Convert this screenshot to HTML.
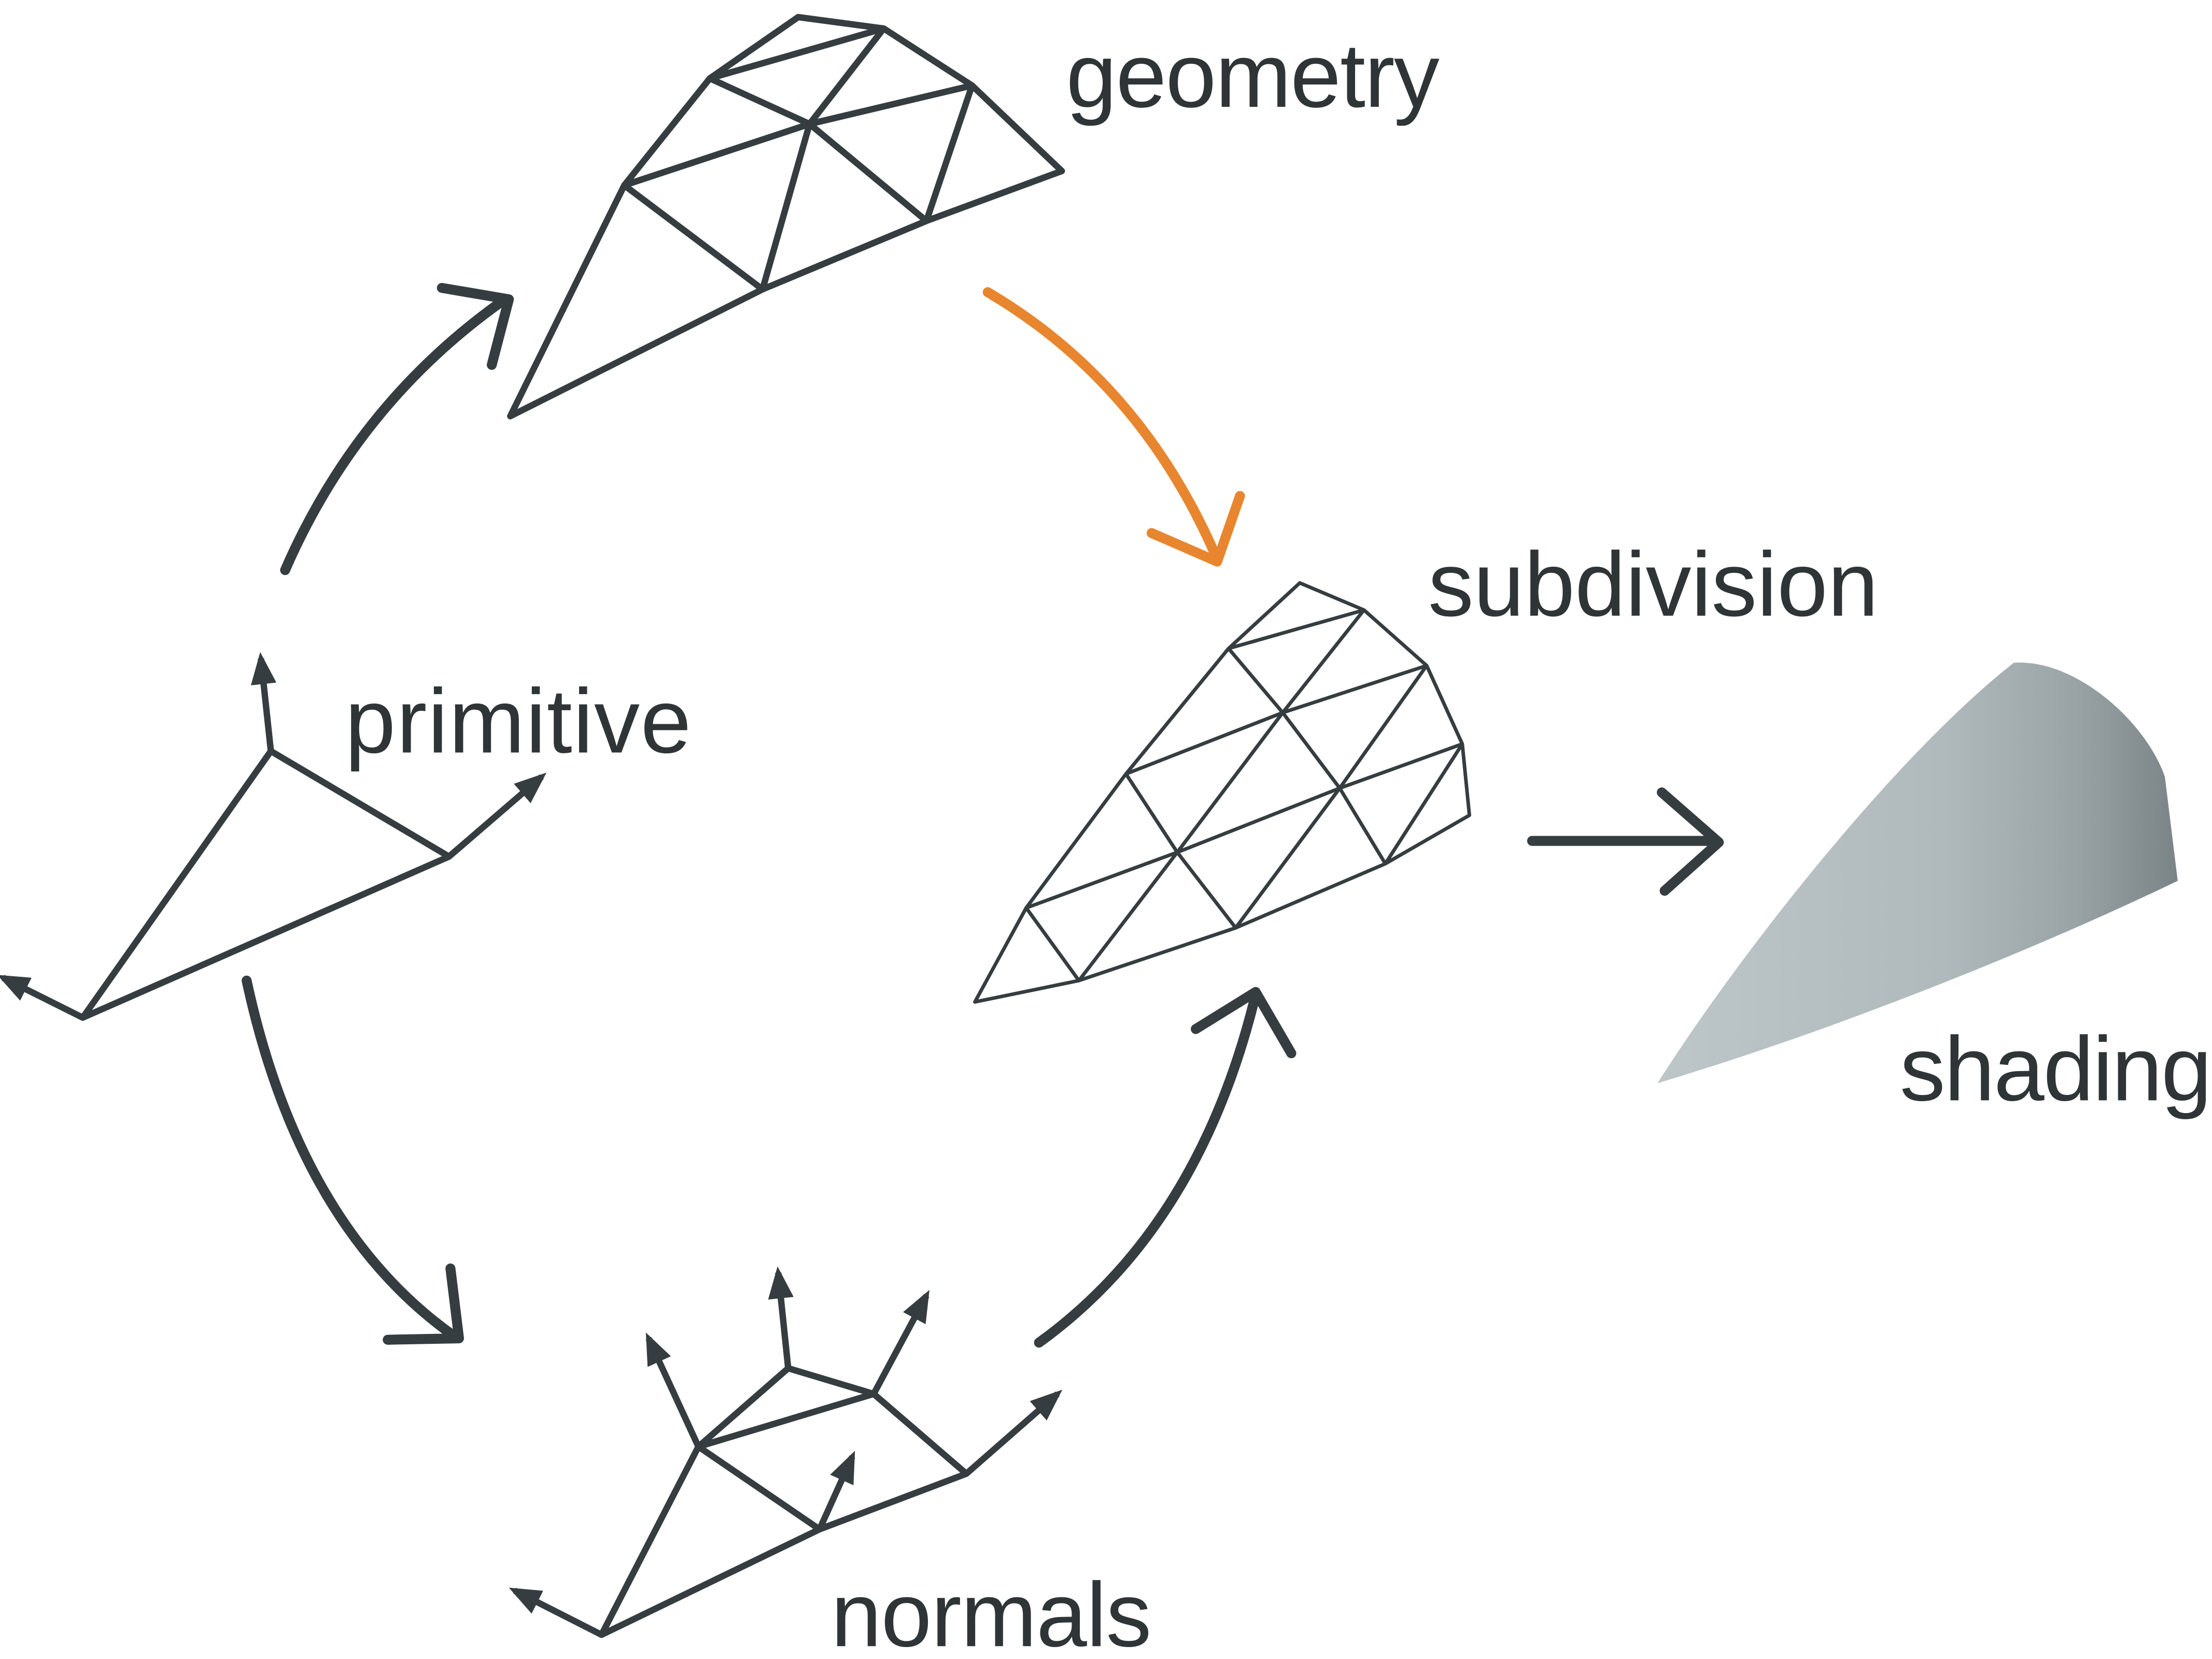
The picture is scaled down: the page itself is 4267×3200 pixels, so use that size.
<!DOCTYPE html>
<html><head><meta charset="utf-8"><style>
html,body{margin:0;padding:0;background:#fff;}
svg{display:block;}
text{font-family:"Liberation Sans",sans-serif;font-size:64px;fill:#2f3537;}
</style></head><body>
<svg width="4267" height="3200" viewBox="0 0 1552 1164" xmlns="http://www.w3.org/2000/svg">
<defs>
<linearGradient id="shade" x1="0" y1="0" x2="1" y2="0">
<stop offset="0" stop-color="#bdc6c8"/><stop offset="0.55" stop-color="#b0babc"/><stop offset="0.8" stop-color="#9aa4a6"/><stop offset="1" stop-color="#7a8486"/>
</linearGradient>
<marker id="ah" markerWidth="5" markerHeight="4" refX="4" refY="2" orient="auto" markerUnits="strokeWidth">
<path d="M0,0 L5,2 L0,4 Z" fill="#353d40" stroke="none"/>
</marker>
</defs>
<g stroke="#353d40" fill="none" stroke-linejoin="round">
<g stroke-width="4.5">
<path d="M358,292 L438,130 L498,55 L560,12 L620,20 L682,60 L745,120 L650,155 L535,203 Z"/>
<path d="M498,55 L620,20 L568,87 Z M438,130 L568,87 L682,60 L650,155 L568,87 L535,203 M438,130 L535,203"/>
</g>
<g stroke-width="4.5">
<path d="M58,714 L190,527 L315,601 Z"/>
<path d="M190,527 L183,462" marker-end="url(#ah)"/>
<path d="M315,601 L380,545" marker-end="url(#ah)"/>
<path d="M58,714 L2,686" marker-end="url(#ah)"/>
</g>
<g stroke-width="4.5">
<path d="M422,1147 L490,1015 L553,960 L613,978 L678,1034 L575,1073 Z M490,1015 L613,978 M490,1015 L575,1073"/>
<path d="M490,1015 L455,939" marker-end="url(#ah)"/>
<path d="M553,960 L546,893" marker-end="url(#ah)"/>
<path d="M613,978 L650,909" marker-end="url(#ah)"/>
<path d="M678,1034 L742,978" marker-end="url(#ah)"/>
<path d="M422,1147 L361,1116" marker-end="url(#ah)"/>
<path d="M575,1073 L598,1022" marker-end="url(#ah)"/>
</g>
<g stroke-width="2.5">
<path d="M684,703 L720,637 L790,543 L862,455 L912,409 L957,428 L1001,467 L1026,522 L1031,572 L972,606 L867,651 L757,688 Z"/>
<path d="M720,637 L757,688 M720,637 L826,598 L940,553 L1026,522 M790,543 L826,598 L867,651 M790,543 L900,500 L1001,467 M862,455 L900,500 L940,553 L972,606 M862,455 L957,428 M757,688 L826,598 L900,500 L957,428 M867,651 L940,553 L1001,467 M972,606 L1026,522"/>
</g>
<g stroke-width="7" stroke-linecap="round">
<path d="M200,400 Q250,285 350,213"/>
<path d="M310,202 L357,210 L345,256"/>
</g>
<g stroke="#e8862f" stroke-width="7" stroke-linecap="round">
<path d="M693,205 Q800,268 853,390"/>
<path d="M808,374 L854,394 L870,348"/>
</g>
<g stroke-width="7" stroke-linecap="round">
<path d="M173,688 Q210,860 318,937"/>
<path d="M272,940 L322,939 L316,890"/>
</g>
<g stroke-width="7" stroke-linecap="round">
<path d="M729,942 Q840,862 880,702"/>
<path d="M839,722 L881,696 L906,739"/>
</g>
<g stroke-width="7" stroke-linecap="round">
<path d="M1075,590 L1203,590"/>
<path d="M1166,556 L1206,591 L1168,625"/>
</g>
</g>
<path d="M1163,760 C1220,670 1330,530 1413,465 C1455,462 1505,505 1519,545 L1528,618 C1420,670 1280,725 1163,760 Z" fill="url(#shade)"/>
<text x="748" y="75" textLength="262">geometry</text>
<text x="242" y="528" textLength="243">primitive</text>
<text x="1002" y="432" textLength="316">subdivision</text>
<text x="1333" y="772" textLength="219">shading</text>
<text x="583" y="1155" textLength="225">normals</text>
</svg>
</body></html>
